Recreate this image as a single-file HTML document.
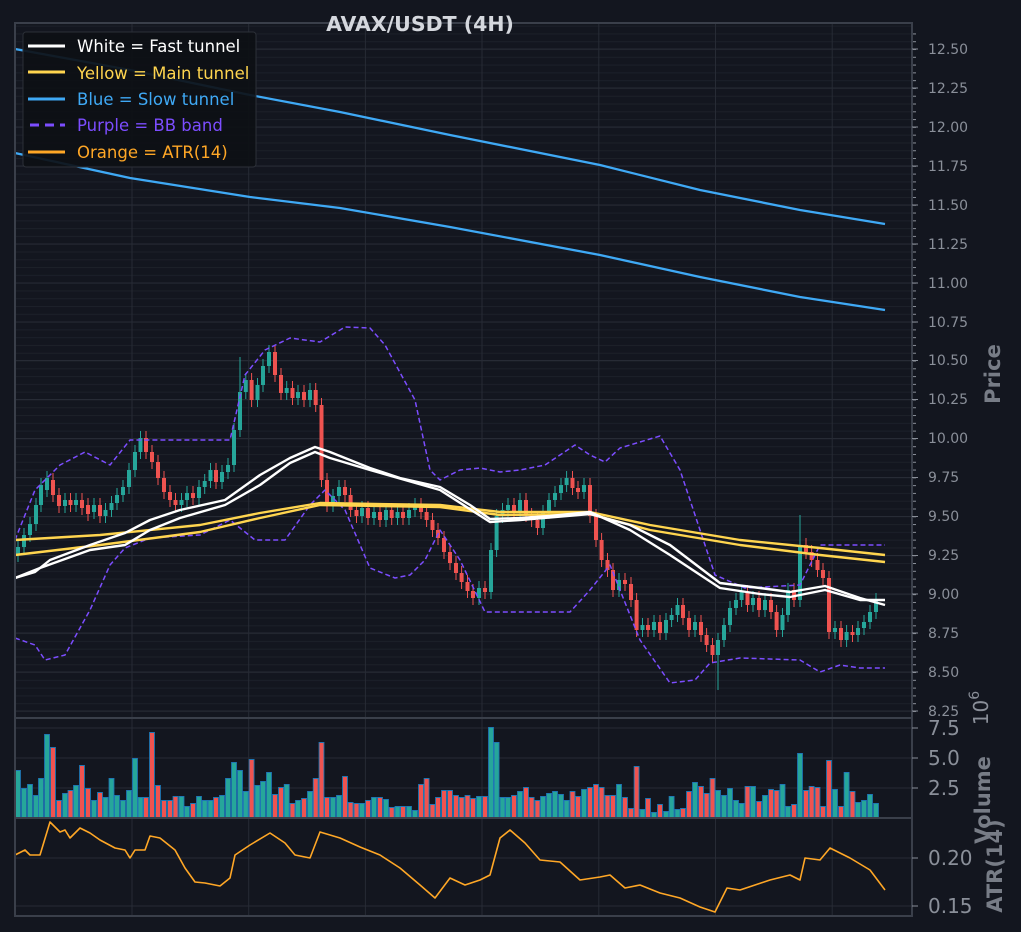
<!DOCTYPE html>
<html><head><meta charset="utf-8"><style>
html,body{margin:0;padding:0;background:#13161f;}
svg{display:block;font-family:"DejaVu Sans","Liberation Sans",sans-serif;}
</style></head><body>
<svg width="1021" height="932" viewBox="0 0 1021 932" xmlns="http://www.w3.org/2000/svg">
<defs>
<pattern id="minor" x="0" y="49" width="10" height="7.788" patternUnits="userSpaceOnUse"><line x1="0" y1="0.5" x2="10" y2="0.5" stroke="#1c2029" stroke-width="1"/></pattern>
<pattern id="mtick" x="0" y="49" width="10" height="7.788" patternUnits="userSpaceOnUse"><line x1="0" y1="0.5" x2="10" y2="0.5" stroke="#8a8f99" stroke-width="1"/></pattern>
</defs>
<rect width="1021" height="932" fill="#13161f"/>
<rect x="15" y="23" width="897" height="695" fill="url(#minor)"/>
<g stroke="#272b35" stroke-width="1">
<line x1="15" x2="912" y1="49" y2="49"/><line x1="15" x2="912" y1="88" y2="88"/><line x1="15" x2="912" y1="127" y2="127"/><line x1="15" x2="912" y1="166" y2="166"/><line x1="15" x2="912" y1="205" y2="205"/><line x1="15" x2="912" y1="244" y2="244"/><line x1="15" x2="912" y1="283" y2="283"/><line x1="15" x2="912" y1="322" y2="322"/><line x1="15" x2="912" y1="360.5" y2="360.5"/><line x1="15" x2="912" y1="399.5" y2="399.5"/><line x1="15" x2="912" y1="438.5" y2="438.5"/><line x1="15" x2="912" y1="477.5" y2="477.5"/><line x1="15" x2="912" y1="516.5" y2="516.5"/><line x1="15" x2="912" y1="555.5" y2="555.5"/><line x1="15" x2="912" y1="594" y2="594"/><line x1="15" x2="912" y1="633" y2="633"/><line x1="15" x2="912" y1="672" y2="672"/><line x1="15" x2="912" y1="711" y2="711"/>
<line x1="15" x2="912" y1="728" y2="728"/><line x1="15" x2="912" y1="758" y2="758"/><line x1="15" x2="912" y1="788" y2="788"/><line x1="15" x2="912" y1="858" y2="858"/><line x1="15" x2="912" y1="906" y2="906"/>
<line x1="132" x2="132" y1="23" y2="916"/><line x1="248.7" x2="248.7" y1="23" y2="916"/><line x1="365.4" x2="365.4" y1="23" y2="916"/><line x1="482" x2="482" y1="23" y2="916"/><line x1="598.8" x2="598.8" y1="23" y2="916"/><line x1="715.5" x2="715.5" y1="23" y2="916"/><line x1="832.2" x2="832.2" y1="23" y2="916"/>
</g>
<!-- candles -->
<g fill="none">
<path stroke="#26a69a" stroke-width="1" d="M18 540V562M24 528V554M30 517V542M36 498V531M41 478V512M47 471V497M65 493V513M76 493V512M94 498V519M105.5 503V523M111.5 496V517M117 488V510M123 480V502M129 463V494M135 445V477M140.5 431V459M181.5 493V512M187 486V507M199 480V505M204.7 474V494M210.5 463V488M222 465V489M228 458V479M234 423V472M240 357V437M245.8 373V399M257.5 378V407M263 359V392M269 345V373M286.7 381V400M298 385V405M310 383V407M333 489V512M339 480V503M362 501V523M374 505V525M386 503V527M397.5 505V525M409 503V525M415 498V517M479 581V605M491 543V599M496.6 509V557M502.5 503V523M508 498V517M520 493V519M543 505V535M549 493V519M555 486V507M561 478V500M566.6 471V492M584 478V499M619 573V597M642.5 618V637M654 615V637M666 613V640M671.6 608V627M677.5 598V622M695 615V637M718 633V690M724 618V647M730 601V632M736 593V615M741.6 585V607M753 591V612M765 593V617M782.5 608V637M788 583V622M800 515V607M835 621V639M846.6 625V647M858 621V642M864 615V635M870 605V629M876 593V619"/>
<path stroke="#26a69a" stroke-width="4" d="M18 555V547M24 547V535M30 535V524M36 524V505M41 505V485M47 490V478M65 506V500M76 505V500M94 512V505M105.5 516V510M111.5 510V503M117 503V495M123 495V487M129 487V470M135 470V452M140.5 452V438M181.5 505V500M187 500V493M199 498V487M204.7 487V481M210.5 481V470M222 482V472M228 472V465M234 465V430M240 430V392M245.8 392V380M257.5 400V385M263 385V366M269 366V352M286.7 393V388M298 398V392M310 400V390M333 505V496M339 496V487M362 516V508M374 518V512M386 520V510M397.5 518V512M409 518V510M415 510V505M479 598V588M491 592V550M496.6 550V516M502.5 516V510M508 510V505M520 512V500M543 528V512M549 512V500M555 500V493M561 493V485M566.6 485V478M584 492V485M619 590V580M642.5 630V625M654 630V622M666 633V620M671.6 620V615M677.5 615V605M695 630V622M718 655V640M724 640V625M730 625V608M736 608V600M741.6 600V592M753 605V598M765 610V600M782.5 630V615M788 615V590M800 600V545M835 632V628M846.6 640V632M858 635V628M864 628V622M870 622V612M876 612V600"/>
<path stroke="#ef5350" stroke-width="1" d="M53 473V502M59 488V513M70.5 493V512M82 493V515M88 498V521M100 498V523M146 431V459M152 445V469M158 455V485M164 471V499M170 485V507M175.5 493V512M193 486V505M216 463V489M251.6 373V407M275 345V382M281 368V400M292.5 381V405M304 385V407M315.7 383V412M321.5 398V487M327 473V512M345 480V502M350.6 488V517M356.5 503V523M368 501V525M380 505V527M391.7 503V525M403 505V525M421 498V519M426.6 505V527M432.5 513V537M438 523V545M444 531V559M450 545V570M456 556V580M461.6 566V589M467.5 575V598M473 584V605M485 581V599M514 498V519M526 493V522M531.6 508V527M537.5 513V535M572.5 471V495M578 481V499M590 478V523M596 509V547M601.6 533V567M607.5 553V577M613 563V597M625 573V591M631 577V607M636.6 593V637M648 618V637M660 615V640M683 598V625M689 611V637M701 615V642M706.6 628V652M712.5 638V662M747.5 585V612M759 591V617M771 593V619M776.6 605V637M794 583V607M806 538V559M811.6 545V567M817.5 553V577M823 563V585M829 571V639M841 621V647M852.5 625V642"/>
<path stroke="#ef5350" stroke-width="4" d="M53 480V495M59 495V506M70.5 500V505M82 500V508M88 505V514M100 505V516M146 438V452M152 452V462M158 462V478M164 478V492M170 492V500M175.5 500V505M193 493V498M216 470V482M251.6 380V400M275 352V375M281 375V393M292.5 388V398M304 392V400M315.7 390V405M321.5 405V480M327 480V505M345 487V495M350.6 495V510M356.5 510V516M368 508V518M380 512V520M391.7 510V518M403 512V518M421 505V512M426.6 512V520M432.5 520V530M438 530V538M444 538V552M450 552V563M456 563V573M461.6 573V582M467.5 582V591M473 591V598M485 588V592M514 505V512M526 500V515M531.6 515V520M537.5 520V528M572.5 478V488M578 488V492M590 485V516M596 516V540M601.6 540V560M607.5 560V570M613 570V590M625 580V584M631 584V600M636.6 600V630M648 625V630M660 622V633M683 605V618M689 618V630M701 622V635M706.6 635V645M712.5 645V655M747.5 592V605M759 598V610M771 600V612M776.6 612V630M794 590V600M806 545V552M811.6 552V560M817.5 560V570M823 570V578M829 578V632M841 628V640M852.5 632V635"/>
</g>
<g fill="none" stroke-linejoin="round">
<polyline stroke="#3fa9f5" stroke-width="2.3" points="15,49 130,70 250,95 340,112 450,135 600,165 700,190 800,210 885,224"/>
<polyline stroke="#3fa9f5" stroke-width="2.3" points="15,153 130,178 250,197 340,208 450,227 600,255 700,277 800,297 885,310"/>
<polyline stroke="#7c4dff" stroke-width="1.5" stroke-dasharray="5,3" points="15,540 35,490 60,465 85,452 110,465 130,440 150,440 230,440 245,375 265,350 290,338 320,342 345,327 370,328 385,345 415,400 430,470 440,480 460,470 480,468 500,472 520,470 545,465 560,455 575,445 590,455 605,462 620,448 660,436 680,470 700,530 715,575 745,588 800,585 820,545 840,545 885,545"/>
<polyline stroke="#7c4dff" stroke-width="1.5" stroke-dasharray="5,3" points="15,638 35,645 45,660 65,655 90,610 110,565 125,548 150,538 200,535 230,520 255,540 285,540 310,505 325,490 345,510 370,568 395,578 410,575 425,560 440,530 460,560 485,612 530,612 570,612 590,590 610,565 640,640 670,683 695,680 710,663 740,658 800,660 820,672 840,665 860,668 885,668"/>
<polyline stroke="#ffd54f" stroke-width="2.4" points="15,540 100,535 200,525 260,513 320,503 440,505 500,512 590,512 650,525 740,540 820,548 885,555"/>
<polyline stroke="#ffd54f" stroke-width="2.4" points="15,555 100,545 200,532 260,518 320,505 440,507 500,515 590,514 650,530 740,545 820,555 885,562"/>
<polyline stroke="#ffffff" stroke-width="2.4" points="15,578 35,572 50,560 90,545 125,533 150,520 180,510 225,500 260,475 290,458 315,447 330,452 370,468 400,478 440,487 470,505 490,519 520,518 550,516 590,512 630,530 670,555 720,588 760,594 790,597 825,590 860,600 885,600"/>
<polyline stroke="#ffffff" stroke-width="2.4" points="15,578 40,568 90,550 125,545 150,530 180,518 225,505 260,485 290,463 315,452 330,458 370,470 440,490 490,522 520,520 590,514 630,525 670,545 720,583 760,588 790,592 825,586 860,598 885,605"/>
<polyline stroke="#ffa726" stroke-width="1.6" points="15,855 25,850 30,855 40,855 50,822 60,832 65,830 70,838 80,828 90,833 100,840 115,848 125,850 130,858 135,850 145,850 150,836 160,838 175,850 185,868 195,882 205,883 220,886 230,878 235,855 250,845 270,833 285,843 295,855 310,858 320,832 340,838 360,847 380,855 400,868 420,885 435,898 450,878 465,885 480,880 490,875 500,838 510,830 525,843 540,860 560,862 580,880 600,877 610,875 625,888 640,885 660,893 680,898 700,907 715,912 727,888 740,890 755,885 770,880 790,875 800,880 805,858 820,860 830,848 850,858 870,870 885,890"/>
</g>
<!-- volume -->
<g fill="none">
<path stroke="#1f77b4" stroke-width="5.8" d="M18 818V770M24 818V788M30 818V784M36 818V795M41 818V778M47 818V734M53 818V747M59 818V800M65 818V793M70.5 818V790M76 818V785M82 818V765M88 818V788M94 818V800M100 818V792M105.5 818V797M111.5 818V778M117 818V795M123 818V800M129 818V790M135 818V758M140.5 818V797M146 818V797M152 818V732M158 818V785M164 818V800M170 818V800M175.5 818V796M181.5 818V796M187 818V806M193 818V803M199 818V796M204.7 818V800M210.5 818V800M216 818V797M222 818V795M228 818V778M234 818V762M240 818V770M245.8 818V791M251.6 818V759M257.5 818V785M263 818V781M269 818V772M275 818V794M281 818V787M286.7 818V784M292.5 818V803M298 818V800M304 818V798M310 818V791M315.7 818V778M321.5 818V742M327 818V797M333 818V797M339 818V795M345 818V776M350.6 818V802M356.5 818V803M362 818V803M368 818V800M374 818V797M380 818V797M386 818V799M391.7 818V807M397.5 818V806M403 818V806M409 818V806M415 818V810M421 818V784M426.6 818V778M432.5 818V804M438 818V797M444 818V790M450 818V790M456 818V795M461.6 818V797M467.5 818V795M473 818V798M479 818V796M485 818V796M491 818V727M496.6 818V742M502.5 818V797M508 818V797M514 818V795M520 818V791M526 818V787M531.6 818V797M537.5 818V800M543 818V796M549 818V793M555 818V791M561 818V794M566.6 818V800M572.5 818V791M578 818V796M584 818V789M590 818V787M596 818V784M601.6 818V787M607.5 818V795M613 818V795M619 818V784M625 818V797M631 818V808M636.6 818V766M642.5 818V809M648 818V798M654 818V812M660 818V804M666 818V811M671.6 818V796M677.5 818V809M683 818V808M689 818V791M695 818V782M701 818V786M706.6 818V793M712.5 818V778M718 818V790M724 818V795M730 818V788M736 818V800M741.6 818V803M747.5 818V786M753 818V786M759 818V801M765 818V795M771 818V789M776.6 818V790M782.5 818V784M788 818V806M794 818V804M800 818V753M806 818V790M811.6 818V786M817.5 818V787M823 818V806M829 818V760M835 818V789M841 818V806M846.6 818V772M852.5 818V791M858 818V802M864 818V800M870 818V794M876 818V803"/>
<path stroke="#26a69a" stroke-width="4" d="M18 818V771M24 818V789M30 818V785M36 818V796M41 818V779M47 818V735M65 818V794M76 818V786M94 818V801M105.5 818V798M111.5 818V779M117 818V796M123 818V801M129 818V791M135 818V759M140.5 818V798M181.5 818V797M187 818V807M199 818V797M204.7 818V801M210.5 818V801M222 818V796M228 818V779M234 818V763M240 818V771M245.8 818V792M257.5 818V786M263 818V782M269 818V773M286.7 818V785M298 818V801M310 818V792M333 818V798M339 818V796M362 818V804M374 818V798M386 818V800M397.5 818V807M409 818V807M415 818V811M479 818V797M491 818V728M496.6 818V743M502.5 818V798M508 818V798M520 818V792M543 818V797M549 818V794M555 818V792M561 818V795M566.6 818V801M584 818V790M619 818V785M642.5 818V810M654 818V813M666 818V812M671.6 818V797M677.5 818V810M695 818V783M718 818V791M724 818V796M730 818V789M736 818V801M741.6 818V804M753 818V787M765 818V796M782.5 818V785M788 818V807M800 818V754M835 818V790M846.6 818V773M858 818V803M864 818V801M870 818V795M876 818V804"/>
<path stroke="#ef5350" stroke-width="4" d="M53 818V748M59 818V801M70.5 818V791M82 818V766M88 818V789M100 818V793M146 818V798M152 818V733M158 818V786M164 818V801M170 818V801M175.5 818V797M193 818V804M216 818V798M251.6 818V760M275 818V795M281 818V788M292.5 818V804M304 818V799M315.7 818V779M321.5 818V743M327 818V798M345 818V777M350.6 818V803M356.5 818V804M368 818V801M380 818V798M391.7 818V808M403 818V807M421 818V785M426.6 818V779M432.5 818V805M438 818V798M444 818V791M450 818V791M456 818V796M461.6 818V798M467.5 818V796M473 818V799M485 818V797M514 818V796M526 818V788M531.6 818V798M537.5 818V801M572.5 818V792M578 818V797M590 818V788M596 818V785M601.6 818V788M607.5 818V796M613 818V796M625 818V798M631 818V809M636.6 818V767M648 818V799M660 818V805M683 818V809M689 818V792M701 818V787M706.6 818V794M712.5 818V779M747.5 818V787M759 818V802M771 818V790M776.6 818V791M794 818V805M806 818V791M811.6 818V787M817.5 818V788M823 818V807M829 818V761M841 818V807M852.5 818V792"/>
</g>
<!-- frames -->
<g fill="none" stroke="#3a3f4a" stroke-width="2">
<rect x="15" y="23" width="897" height="893"/>
<line x1="15" y1="718" x2="912" y2="718"/>
<line x1="15" y1="818" x2="912" y2="818"/>
</g>
<rect x="913" y="30" width="3" height="687" fill="url(#mtick)"/>
<g stroke="#8a8f99" stroke-width="1">
<path d="M912 49H918M912 88H918M912 127H918M912 166H918M912 205H918M912 244H918M912 283H918M912 322H918M912 360.5H918M912 399.5H918M912 438.5H918M912 477.5H918M912 516.5H918M912 555.5H918M912 594H918M912 633H918M912 672H918M912 711H918M912 728H918M912 758H918M912 788H918M912 858H918M912 906H918"/>
</g>
<g fill="#8a8f99" font-size="14">
<text x="928" y="54">12.50</text><text x="928" y="93">12.25</text><text x="928" y="132">12.00</text><text x="928" y="171">11.75</text><text x="928" y="210">11.50</text><text x="928" y="249">11.25</text><text x="928" y="288">11.00</text><text x="928" y="327">10.75</text><text x="928" y="365">10.50</text><text x="928" y="404">10.25</text><text x="928" y="443">10.00</text><text x="928" y="482">9.75</text><text x="928" y="521">9.50</text><text x="928" y="560">9.25</text><text x="928" y="599">9.00</text><text x="928" y="638">8.75</text><text x="928" y="677">8.50</text><text x="928" y="716">8.25</text>
</g>
<g fill="#8a8f99" font-size="20">
<text x="928" y="735">7.5</text><text x="928" y="765">5.0</text><text x="928" y="795">2.5</text>
<text x="928" y="865">0.20</text><text x="928" y="913">0.15</text>
</g>
<g fill="#777c86" font-size="21" font-weight="bold">
<text transform="translate(1000,374) rotate(-90)" text-anchor="middle">Price</text>
<text transform="translate(990,800) rotate(-90)" text-anchor="middle">Volume</text>
<text transform="translate(1002,866) rotate(-90)" text-anchor="middle">ATR(14)</text>
</g>
<text transform="translate(988,708) rotate(-90)" fill="#8a8f99" font-size="20" text-anchor="middle">10<tspan dy="-9" font-size="14">6</tspan></text>
<text x="420" y="31" fill="#d5d8de" font-size="20.5" font-weight="bold" text-anchor="middle">AVAX/USDT (4H)</text>
<!-- legend -->
<rect x="23" y="32" width="233" height="135" rx="3" fill="#0d1015" fill-opacity="0.92" stroke="#2c3038"/>
<g stroke-width="3">
<line x1="28" y1="46" x2="65" y2="46" stroke="#ffffff"/>
<line x1="28" y1="72" x2="65" y2="72" stroke="#ffd54f"/>
<line x1="28" y1="99" x2="65" y2="99" stroke="#3fa9f5"/>
<line x1="30" y1="125" x2="65" y2="125" stroke="#7c4dff" stroke-dasharray="9,6"/>
<line x1="28" y1="152" x2="65" y2="152" stroke="#ffa726"/>
</g>
<g font-size="16.5">
<text x="77" y="52" fill="#ffffff">White = Fast tunnel</text>
<text x="77" y="79" fill="#ffd54f">Yellow = Main tunnel</text>
<text x="77" y="105" fill="#3fa9f5">Blue = Slow tunnel</text>
<text x="77" y="131" fill="#7c4dff">Purple = BB band</text>
<text x="77" y="158" fill="#ffa726">Orange = ATR(14)</text>
</g>
</svg>
</body></html>
